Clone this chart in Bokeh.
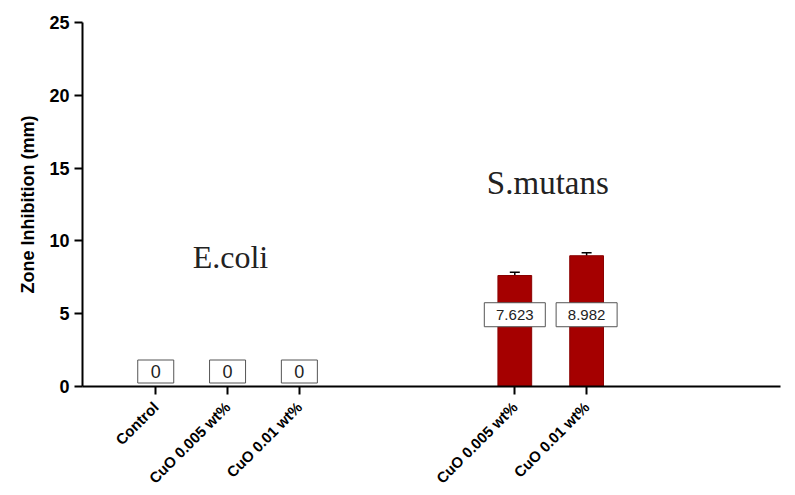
import math
from bokeh.plotting import figure
from bokeh.models import (ColumnDataSource, FixedTicker, Range1d, Whisker, Label)
from bokeh.embed import file_html
from bokeh.resources import INLINE
from bokeh.core.properties import value

# ---- data ----
categories = ["Control", "CuO 0.005 wt%", "CuO 0.01 wt%",
              "CuO 0.005 wt%", "CuO 0.01 wt%"]
positions = [0, 1, 2, 5, 6]
ecoli_values = [0, 0, 0]
smutans_values = [7.623, 8.982]
smutans_err = [0.22, 0.2]
groups = ["E.coli", "S.mutans"]
y_ticks = [0, 5, 10, 15, 20, 25]

p = figure(width=787, height=495, output_backend="svg", toolbar_location=None,
           x_range=Range1d(-1.02, 8.7), y_range=Range1d(0, 25),
           min_border_left=82, min_border_right=7, min_border_top=22,
           min_border_bottom=108)
p.outline_line_color = None
p.grid.visible = False
p.background_fill_color = "white"

bar_x = positions[3:]
src = ColumnDataSource(dict(x=bar_x, top=smutans_values,
                            upper=[v + e for v, e in zip(smutans_values, smutans_err)],
                            lower=[v - e for v, e in zip(smutans_values, smutans_err)]))
p.vbar(x="x", top="top", width=0.47, source=src, fill_color="#A50000",
       line_color="#8A0000", line_width=1)
w = Whisker(source=src, base="x", upper="upper", lower="lower",
            line_color="black", line_width=1.5)
for h in (w.upper_head, w.lower_head):
    h.size = 10
    h.line_width = 1.5
    h.line_color = "black"
p.add_layout(w)

# value boxes
zero_src = ColumnDataSource(dict(x=positions[:3], y=[1.03] * 3,
                                 t=[str(v) for v in ecoli_values]))
val_src = ColumnDataSource(dict(x=bar_x, y=[4.93] * 2,
                                t=["%.3f" % v for v in smutans_values]))
for s, bw, bh, fs in ((zero_src, 36, 23, "18px"), (val_src, 61, 24, "15px")):
    p.rect(x="x", y="y", width=bw, height=bh, width_units="screen",
           height_units="screen", source=s, fill_color="white",
           line_color="#555555", line_width=1)
    p.text(x="x", y="y", text="t", source=s, text_align="center",
           text_baseline="middle", text_font=value("Liberation Sans"),
           text_font_size=fs, text_color="#222222")

# group names
p.add_layout(Label(x=1.04, y=8.9, text=groups[0], text_align="center",
                   text_baseline="middle", text_font="Liberation Serif",
                   text_font_size="32px", text_color="#222222"))
p.add_layout(Label(x=5.46, y=13.97, text=groups[1], text_align="center",
                   text_baseline="middle", text_font="Liberation Serif",
                   text_font_size="33px", text_color="#222222"))

# axes
p.xaxis.ticker = FixedTicker(ticks=positions)
p.xaxis.major_label_overrides = {pos: c for pos, c in zip(positions, categories)}
p.xaxis.major_label_orientation = math.pi / 4
p.xaxis.major_label_standoff = 10
p.yaxis.ticker = FixedTicker(ticks=y_ticks)
for ax in (p.xaxis, p.yaxis):
    ax.axis_line_width = 2
    ax.axis_line_color = "black"
    ax.major_tick_line_width = 2
    ax.major_tick_line_color = "black"
    ax.major_tick_out = 8
    ax.major_tick_in = 0
    ax.minor_tick_line_color = None
    ax.major_label_text_font = "Liberation Sans"
    ax.major_label_text_font_style = "bold"
    ax.major_label_text_color = "black"
p.xaxis.major_label_text_font_size = "15px"
p.yaxis.major_label_text_font_size = "18px"
p.yaxis.axis_label = "Zone Inhibition (mm)"
p.yaxis.axis_label_text_font = "Liberation Sans"
p.yaxis.axis_label_text_font_style = "bold"
p.yaxis.axis_label_text_font_size = "18px"
p.yaxis.axis_label_text_color = "black"
p.yaxis.axis_label_standoff = 8

open("out.html", "w").write(file_html(p, INLINE))
